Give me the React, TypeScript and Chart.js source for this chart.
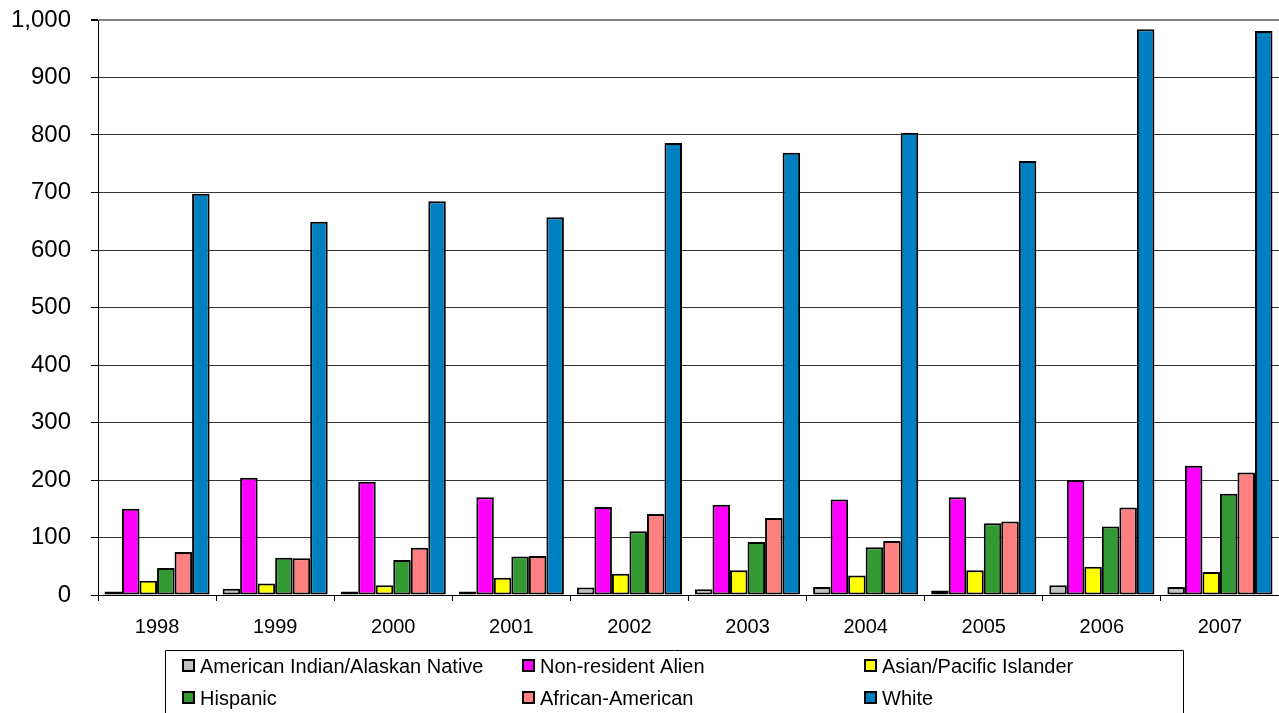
import React, { useEffect, useRef } from "react";
import { Chart, registerables } from "chart.js";

Chart.register(...registerables);

const years = ["1998", "1999", "2000", "2001", "2002", "2003", "2004", "2005", "2006", "2007"];
const seriesNames = [
  "American Indian/Alaskan Native",
  "Non-resident Alien",
  "Asian/Pacific Islander",
  "Hispanic",
  "African-American",
  "White",
];
const americanIndian = [6, 11, 6, 6, 13, 10, 14, 8, 17, 14];
const nonResidentAlien = [150, 204, 197, 170, 153, 157, 166, 170, 200, 225];
const asianPacific = [25, 20, 17, 30, 37, 43, 34, 43, 49, 40];
const hispanic = [47, 65, 61, 67, 111, 92, 83, 125, 119, 176];
const africanAmerican = [75, 64, 82, 68, 141, 134, 94, 128, 152, 213];
const white = [698, 649, 685, 657, 786, 769, 804, 755, 984, 981];
const seriesColors = ["#C0C0C0", "#FF00FF", "#FFFF00", "#339933", "#FF8080", "#0080C0"];
const yTicks = [0, 100, 200, 300, 400, 500, 600, 700, 800, 900, 1000];

const FONT = "'Liberation Sans', Arial, sans-serif";

const legendBox = {
  id: "legendBox",
  afterDraw(chart: any) {
    const ctx = chart.ctx;
    ctx.save();
    const left = 165;
    const top = 650;
    const right = 1183;
    ctx.strokeStyle = "#000";
    ctx.lineWidth = 1;
    ctx.beginPath();
    ctx.moveTo(left + 0.5, 720);
    ctx.lineTo(left + 0.5, top + 0.5);
    ctx.lineTo(right + 0.5, top + 0.5);
    ctx.lineTo(right + 0.5, 720);
    ctx.stroke();
    const colX = [183, 523, 865];
    const rowY = [666, 698];
    ctx.font = "20px " + FONT;
    ctx.textBaseline = "middle";
    ctx.textAlign = "left";
    chart.data.datasets.forEach((ds: any, i: number) => {
      const x = colX[i % 3];
      const y = rowY[Math.floor(i / 3)];
      ctx.fillStyle = ds.backgroundColor;
      ctx.fillRect(x, y - 6, 11, 11);
      ctx.strokeStyle = "#000";
      ctx.lineWidth = 2;
      ctx.strokeRect(x, y - 6, 11, 11);
      ctx.fillStyle = "#000";
      ctx.fillText(ds.label, x + 17, y + 1);
    });
    ctx.restore();
  },
};

export default function App() {
  const ref = useRef<HTMLCanvasElement>(null);
  useEffect(() => {
    document.body.style.margin = "0";
    const values = [americanIndian, nonResidentAlien, asianPacific, hispanic, africanAmerican, white];
    const chart = new Chart(ref.current as HTMLCanvasElement, {
      type: "bar",
      data: {
        labels: years,
        datasets: seriesNames.map((name, i) => ({
          label: name,
          data: values[i],
          backgroundColor: seriesColors[i],
          borderColor: "#000",
          borderWidth: 2,
          borderSkipped: false,
          categoryPercentage: 0.89,
          barPercentage: 1,
        })),
      },
      options: {
        animation: false,
        responsive: false,
        maintainAspectRatio: false,
        layout: { padding: { top: 20, right: 0, left: 0, bottom: 0 } },
        plugins: {
          legend: { display: false },
          tooltip: { enabled: false },
        },
        scales: {
          x: {
            type: "category",
            grid: {
              offset: true,
              drawOnChartArea: false,
              drawTicks: true,
              tickLength: 6,
              tickColor: "#000",
            },
            border: { display: true, color: "#000", width: 1 },
            ticks: {
              color: "#000",
              font: { family: FONT, size: 20 },
              padding: 14,
              maxRotation: 0,
            },
            afterFit: (scale: any) => {
              scale.height = 118;
              scale.paddingLeft = 0;
              scale.paddingRight = 0;
            },
          },
          y: {
            min: 0,
            max: 1000,
            afterBuildTicks: (scale: any) => {
              scale.ticks = yTicks.map((v) => ({ value: v }));
            },
            grid: {
              color: (c: any) => (c.tick && c.tick.value === 1000 ? "#808080" : "#333333"),
              lineWidth: (c: any) => (c.tick && c.tick.value === 1000 ? 2 : 1),
              drawTicks: true,
              tickLength: 7,
              tickColor: "#000",
            },
            border: { display: true, color: "#000", width: 1 },
            ticks: {
              color: "#000",
              font: { family: FONT, size: 24 },
              padding: 20,
              callback: (v: any) => Number(v).toLocaleString("en-US"),
            },
            afterFit: (scale: any) => {
              scale.width = 98;
              scale.paddingTop = 0;
              scale.paddingBottom = 0;
            },
          },
        },
      },
      plugins: [legendBox],
    });
    return () => chart.destroy();
  }, []);
  return (
    <div style={{ position: "fixed", left: 0, top: 0, width: 1279, height: 713 }}>
      <canvas ref={ref} width={1279} height={713} style={{ width: 1279, height: 713 }} />
    </div>
  );
}
